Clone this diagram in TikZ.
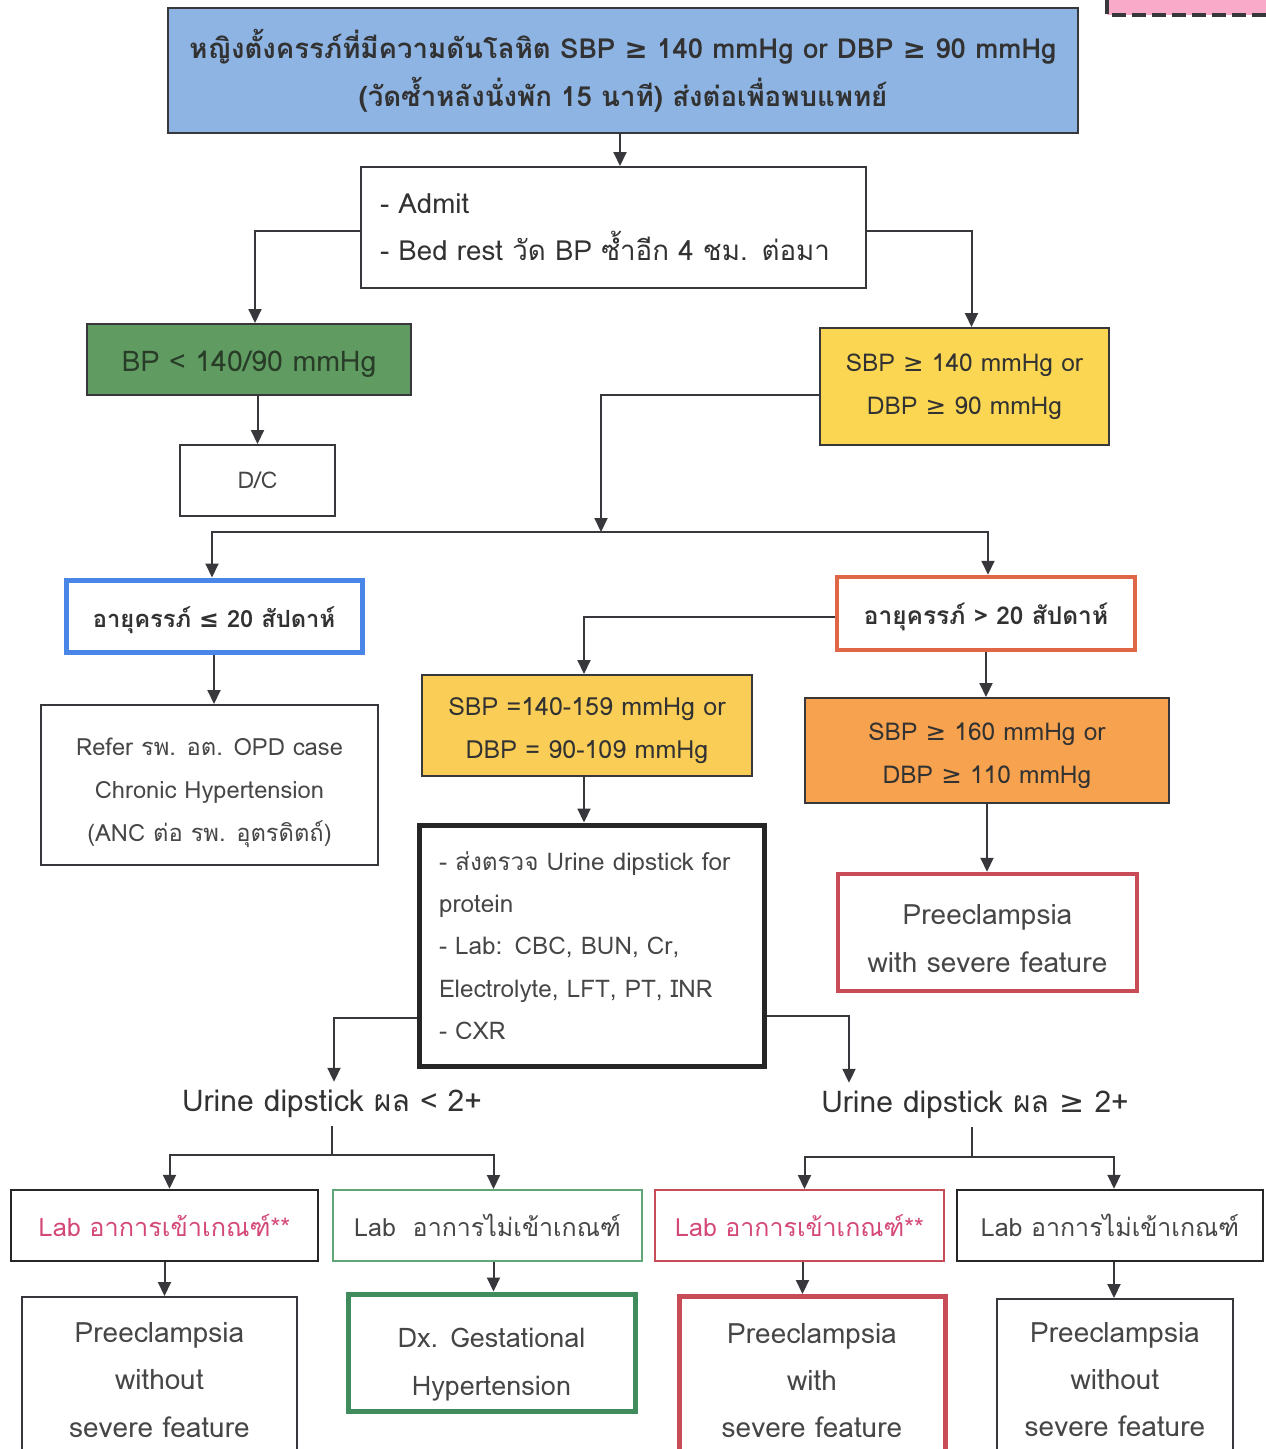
\documentclass[tikz,border=0pt]{standalone}
\usepackage{fontspec}
\setmainfont[Script=Thai]{Loma}
\newfontfamily\symf{DejaVu Sans}
\usetikzlibrary{arrows.meta}
\newcommand\gesym{{\symf ≥}}
\newcommand\lesym{{\symf ≤}}
% move the lines of a box label vertically, keeping the label's extent
\newcommand\vmove[2]{\raisebox{#1}[\height][\depth]{\begin{tabular}{@{}c@{}}#2\end{tabular}}}
\definecolor{linec}{RGB}{55,55,60}
\definecolor{txt}{RGB}{50,50,50}
\definecolor{txtl}{RGB}{70,70,70}
\definecolor{topblue}{RGB}{142,180,227}
\definecolor{okgreen}{RGB}{96,156,98}
\definecolor{yellowA}{RGB}{250,214,82}
\definecolor{yellowB}{RGB}{250,206,86}
\definecolor{orangeF}{RGB}{246,162,78}
\definecolor{blueB}{RGB}{74,134,232}
\definecolor{orangeB}{RGB}{224,102,72}
\definecolor{redB}{RGB}{200,76,88}
\definecolor{greenB}{RGB}{64,140,92}
\definecolor{greenT}{RGB}{96,166,118}
\definecolor{pinkT}{RGB}{212,72,120}
\definecolor{pinkF}{RGB}{248,170,200}
\begin{document}
\begin{tikzpicture}[x=1pt,y=-1pt,
  box/.style={draw=linec, line width=2pt, rectangle, inner sep=0pt, align=center, text=txt},
  arr/.style={draw=linec, line width=2pt, -{Triangle[width=13pt,length=14pt]}},
  ln/.style={draw=linec, line width=2pt}]
\useasboundingbox (0,0) rectangle (1266,1449);

% note tag in the corner
\draw[draw=linec, fill=pinkF, line width=4pt, dash pattern=on 14pt off 6pt] (1107,-20) rectangle (1280,15);

% header
\node[box, fill=topblue, minimum width=910pt, minimum height=125pt, font=\bfseries\fontsize{27.6}{48}\selectfont] (top) at (623,70.5)
  {หญิงตั้งครรภ์ที่มีความดันโลหิต SBP \gesym{} 140 mmHg or DBP \gesym{} 90 mmHg\\(วัดซ้ำหลังนั่งพัก 15 นาที) ส่งต่อเพื่อพบแพทย์};

\node[box, minimum width=505pt, minimum height=121pt, text width=467pt, inner xsep=19pt, align=left, font=\fontsize{27.7}{47}\selectfont] (admit) at (613.5,227.5)
  {- Admit\\- Bed rest วัด BP ซ้ำอีก 4 ชม. ต่อมา};

\node[box, fill=okgreen, minimum width=324pt, minimum height=71pt, font=\fontsize{28.5}{40}\selectfont, text={rgb,255:red,40;green,60;blue,40}] (green) at (249,359.5)
  {\vmove{-4pt}{BP < 140/90 mmHg}};
\node[box, minimum width=155pt, minimum height=71pt, font=\fontsize{23}{40}\selectfont, text=txtl] (dc) at (257.5,480.5) {D/C};

\node[box, fill=yellowA, minimum width=289pt, minimum height=117pt, font=\fontsize{24.5}{43}\selectfont] (yel1) at (964.5,386.5)
  {SBP \gesym{} 140 mmHg or\\DBP \gesym{} 90 mmHg};

\coordinate (j1) at (601,532);

\node[box, draw=blueB, line width=5pt, minimum width=296pt, minimum height=72pt, font=\bfseries\fontsize{23.7}{40}\selectfont] (blu) at (214,616)
  {\vmove{-3pt}{อายุครรภ์ \lesym{} 20 สัปดาห์}};
\node[box, minimum width=337pt, minimum height=160pt, text=txtl, font=\fontsize{23.7}{43}\selectfont] (refer) at (209.5,785)
  {\vmove{-5pt}{Refer รพ. อต. OPD case\\Chronic Hypertension\\(ANC ต่อ รพ. อุตรดิตถ์)}};

\node[box, draw=orangeB, line width=4.5pt, minimum width=298pt, minimum height=73pt, font=\bfseries\fontsize{24.5}{40}\selectfont] (org1) at (986,613.5)
  {\vmove{-3pt}{อายุครรภ์ > 20 สัปดาห์}};

\node[box, fill=yellowB, minimum width=330pt, minimum height=101pt, font=\fontsize{25}{43}\selectfont] (yel2) at (587,725.5)
  {\vmove{-3pt}{SBP =140-159 mmHg or\\DBP = 90-109 mmHg}};

\node[box, draw=black!85, line width=5pt, minimum width=341pt, minimum height=241pt, text width=305pt, inner xsep=20pt, align=left, text=txtl, font=\fontsize{24.3}{42.3}\selectfont] (lab) at (591.5,945.5)
  {- ส่งตรวจ Urine dipstick for\\protein\\- Lab: CBC, BUN, Cr,\\Electrolyte, LFT, PT, INR\\- CXR};

\node[box, fill=orangeF, minimum width=364pt, minimum height=105pt, font=\fontsize{24.5}{43}\selectfont] (org2) at (987,750.5)
  {\vmove{-3pt}{SBP \gesym{} 160 mmHg or\\DBP \gesym{} 110 mmHg}};
\node[box, draw=redB, line width=4.5pt, minimum width=299pt, minimum height=117pt, text=txtl, font=\fontsize{28}{48}\selectfont] (red) at (987.5,932.5)
  {\vmove{-6pt}{Preeclampsia\\with severe feature}};

% urine dipstick results
\node[inner sep=0pt, text=txt, font=\fontsize{30}{40}\selectfont, minimum height=44pt] (u1) at (332,1104) {Urine dipstick ผล < 2+};
\node[inner sep=0pt, text=txt, font=\fontsize{30}{40}\selectfont, minimum height=44pt] (u2) at (975,1105) {Urine dipstick ผล \gesym{} 2+};
\coordinate (s1) at (332,1155);
\coordinate (s2) at (972,1157);

\node[box, line width=2.5pt, draw=black!85, minimum width=307pt, minimum height=71pt, text=pinkT, font=\fontsize{25.3}{40}\selectfont] (b1) at (164.5,1225.5)
  {Lab อาการเข้าเกณฑ์**};
\node[box, draw=greenT, minimum width=309pt, minimum height=71pt, text=txtl, font=\fontsize{25}{40}\selectfont] (b2) at (487.5,1225.5)
  {Lab~ อาการไม่เข้าเกณฑ์};
\node[box, draw=redB, minimum width=289pt, minimum height=71pt, text=pinkT, font=\fontsize{25}{40}\selectfont] (b3) at (799.5,1225.5)
  {Lab อาการเข้าเกณฑ์**};
\node[box, line width=2.5pt, draw=black!85, minimum width=306pt, minimum height=71pt, text=txtl, font=\fontsize{25}{40}\selectfont] (b4) at (1110,1225.5)
  {Lab อาการไม่เข้าเกณฑ์};

\node[box, minimum width=275pt, minimum height=174pt, text=txtl, font=\fontsize{28}{47.5}\selectfont, anchor=north] (f1) at (159.5,1296)
  {\vmove{4pt}{Preeclampsia\\without\\severe feature}};
\node[box, draw=greenB, line width=5pt, minimum width=287pt, minimum height=117pt, text=txtl, font=\fontsize{27}{48}\selectfont] (f2) at (491.5,1352.5)
  {\vmove{-9pt}{Dx. Gestational\\Hypertension}};
\node[box, draw=redB, line width=5pt, minimum width=266pt, minimum height=176pt, text=txtl, font=\fontsize{28}{47}\selectfont, anchor=north] (f3) at (812,1294)
  {\vmove{3pt}{Preeclampsia\\with\\severe feature}};
\node[box, minimum width=236pt, minimum height=172pt, text=txtl, font=\fontsize{28}{47}\selectfont, anchor=north] (f4) at (1115,1298)
  {\vmove{5pt}{Preeclampsia\\without\\severe feature}};

% connectors
\draw[arr] ([xshift=-3pt]top.south) -- ([xshift=-3pt]top.south |- admit.north);
\draw[arr] ([yshift=-3pt]admit.west) -| ([xshift=6pt]green.north);
\draw[arr] ([yshift=-3pt]admit.east) -| ([xshift=7pt]yel1.north);
\draw[arr] (dc.north |- green.south) -- (dc.north);
\draw[arr] ([yshift=-8pt]yel1.west) -| (j1);
\draw[arr] (j1) -| ([xshift=-2pt]blu.north);
\draw[arr] (j1) -| ([xshift=2pt]org1.north);
\draw[arr] (blu.south) -- (blu.south |- refer.north);
\draw[arr] ([yshift=-3pt]org1.west) -| ([xshift=-3pt]yel2.north);
\draw[arr] ([xshift=-3pt]yel2.south) -- ([xshift=-3pt]yel2.south |- lab.north);
\draw[arr] (org1.south) -- (org1.south |- org2.north);
\draw[arr] (org2.south) -- (org2.south |- red.north);
\draw[arr] ([yshift=-72pt]lab.west) -| ([xshift=2pt]u1.north);
\draw[arr] ([yshift=-70pt]lab.east) -| ([xshift=-126pt]u2.north);
\draw[ln] (u1.south) -- (s1);
\draw[arr] (s1) -| ([xshift=5pt]b1.north);
\draw[arr] (s1) -| ([xshift=6pt]b2.north);
\draw[ln] ([xshift=-3pt]u2.south) -- (s2);
\draw[arr] (s2) -| ([xshift=5pt]b3.north);
\draw[arr] (s2) -| ([xshift=4pt]b4.north);
\draw[arr] (b1.south) -- (b1.south |- f1.north);
\draw[arr] ([xshift=6pt]b2.south) -- ([xshift=6pt]b2.south |- f2.north);
\draw[arr] ([xshift=3pt]b3.south) -- ([xshift=3pt]b3.south |- f3.north);
\draw[arr] ([xshift=4pt]b4.south) -- ([xshift=4pt]b4.south |- f4.north);
\end{tikzpicture}
\end{document}
